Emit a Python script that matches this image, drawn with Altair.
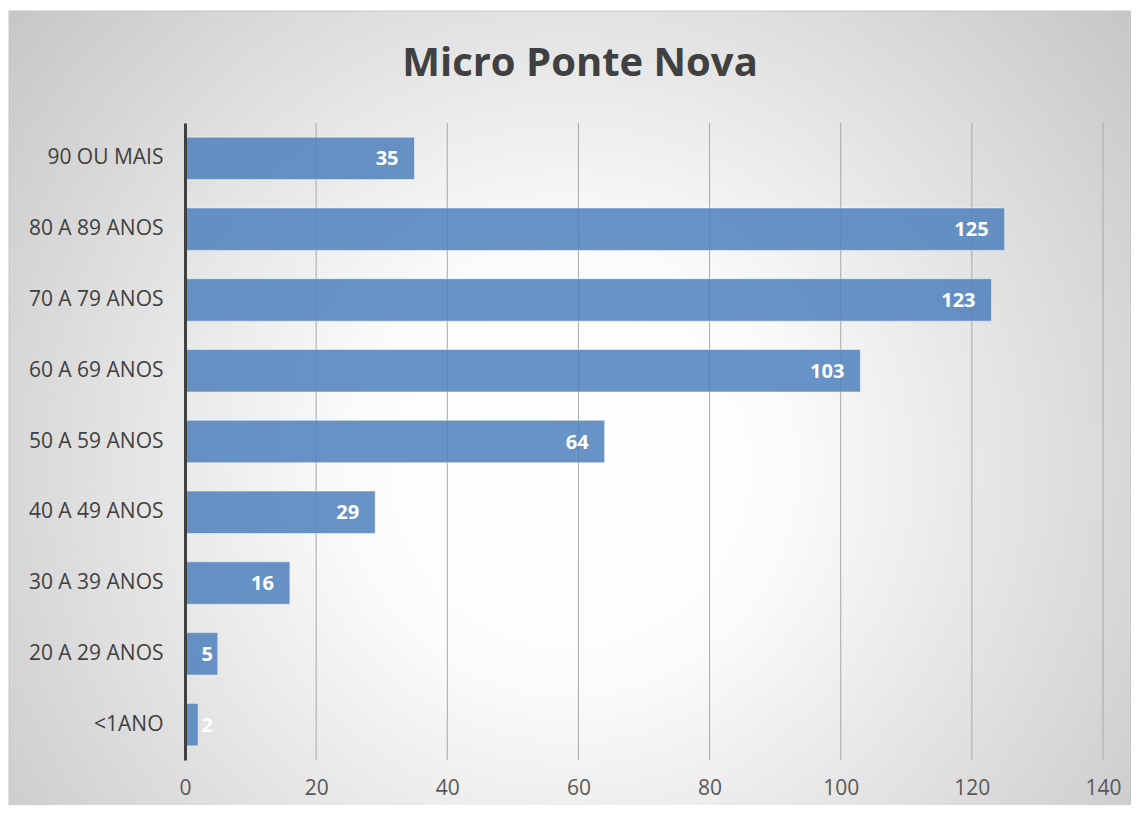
import altair as alt
import pandas as pd

categories = ["90 OU MAIS", "80 A 89 ANOS", "70 A 79 ANOS", "60 A 69 ANOS",
              "50 A 59 ANOS", "40 A 49 ANOS", "30 A 39 ANOS", "20 A 29 ANOS", "<1ANO"]
values = [35, 125, 123, 103, 64, 29, 16, 5, 2]
x_ticks = [0, 20, 40, 60, 80, 100, 120, 140]
chart_title = "Micro Ponte Nova"

df = pd.DataFrame({"faixa": categories, "obitos": values})
ticks_df = pd.DataFrame({"obitos": x_ticks})

W, H = 918, 637
FONT = "Open Sans"

xaxis = alt.Axis(values=x_ticks, grid=False, domain=False, ticks=False,
                 labelFont=FONT, labelFontSize=21, labelColor="#595959",
                 labelFlush=False, labelPadding=17, zindex=1, title=None)
xscale = alt.Scale(domain=[0, 140], nice=False, zero=True)

yenc = alt.Y("faixa:N", sort=categories, title=None,
             scale=alt.Scale(paddingInner=0.4, paddingOuter=0.2),
             axis=alt.Axis(grid=False, ticks=False, domain=True,
                           domainColor="#404040", domainWidth=3,
                           labelFont=FONT, labelFontSize=21, labelColor="#404040",
                           labelPadding=22, zindex=1, title=None))

gradient = alt.Gradient(
    gradient="radial",
    stops=[alt.GradientStop(offset=0, color="#ffffff"),
           alt.GradientStop(offset=0.25, color="#fcfcfc"),
           alt.GradientStop(offset=1, color="#bababa")],
    x1=0.5, y1=0.55, x2=0.5, y2=0.55, r1=0, r2=0.75,
)

bg = alt.Chart(pd.DataFrame({"k": [0]})).mark_rect(
    fill=gradient, stroke="#c4c4c4", strokeWidth=1
).encode(
    x=alt.value(-176), x2=alt.value(946), y=alt.value(-112), y2=alt.value(690)
)

grid = alt.Chart(ticks_df).mark_rule(color="#a8a8a8", strokeWidth=1).encode(
    x=alt.X("obitos:Q", scale=xscale, axis=xaxis)
)

bars = alt.Chart(df).mark_bar(
    color="#4f81bd", opacity=0.85, stroke="#ffffff", strokeOpacity=0.5, strokeWidth=1
).encode(
    x=alt.X("obitos:Q", scale=xscale, axis=xaxis),
    y=yenc,
)

labels = alt.Chart(df).transform_calculate(
    lx="max(datum.obitos, 6.7)"
).mark_text(
    align="right", baseline="middle", dx=-16, dy=1,
    font=FONT, fontSize=20, fontWeight="bold", color="#ffffff"
).encode(
    x=alt.X("lx:Q", scale=xscale, axis=xaxis),
    y=yenc,
    text=alt.Text("obitos:Q"),
)

chart = alt.layer(bg, grid, bars, labels).properties(
    width=W, height=H,
    title=alt.TitleParams(
        text=chart_title, font=FONT, fontSize=40, fontWeight="bold",
        color="#404040", anchor="middle", frame="group", dx=-64,
        baseline="alphabetic", offset=0, dy=105,
    ),
    autosize=alt.AutoSizeParams(type="none"),
    padding={"left": 177, "top": 115, "right": 28, "bottom": 45},
).configure_view(stroke=None).configure(background="white")

chart.save("out.html", embed_options={"renderer": "svg", "actions": False})
